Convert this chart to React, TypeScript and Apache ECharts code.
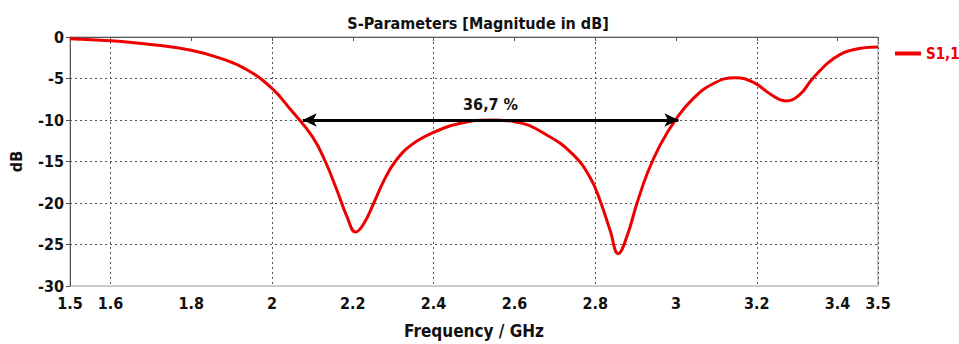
import React, { useEffect, useRef } from "react";
import * as echarts from "echarts";

const titleText = "S-Parameters [Magnitude in dB]";
const seriesName = "S1,1";
const freqGHz = [1.5, 1.6, 1.7, 1.8, 1.875, 1.94, 2.0, 2.047, 2.1, 2.132, 2.161, 2.186, 2.207, 2.227, 2.252, 2.277, 2.305, 2.345, 2.4, 2.467, 2.54, 2.6, 2.68, 2.746, 2.787, 2.812, 2.837, 2.857, 2.878, 2.903, 2.93, 2.961, 3.0, 3.043, 3.093, 3.147, 3.193, 3.234, 3.271, 3.305, 3.34, 3.39, 3.441, 3.5];
const s11dB = [-0.2, -0.45, -0.9, -1.6, -2.6, -4.0, -6.2, -8.8, -12.0, -15, -18.5, -21.7, -23.5, -22.5, -20, -17.3, -15, -13, -11.5, -10.4, -10.0, -10.2, -11.8, -14.2, -16.9, -19.7, -23.3, -26.1, -24.1, -20.1, -16.3, -13, -9.9, -7.4, -5.6, -4.9, -5.5, -6.9, -7.7, -7.0, -4.9, -2.6, -1.5, -1.2];
const xTickLabels = [1.5, 1.6, 1.8, 2, 2.2, 2.4, 2.6, 2.8, 3, 3.2, 3.4, 3.5];
const bandEdges = [2.076, 3.006];
const bandLevel = -10;
const bandLabel = "36,7 %";

const FONT = "DejaVu Sans Condensed";
const RED = "#ee0000";
const INK = "#111";

export default function App() {
  const ref = useRef<HTMLDivElement>(null);
  useEffect(() => {
    if (!ref.current) return;
    const chart = echarts.init(ref.current, null, { renderer: "svg" });
    const gridColor = "#555";
    chart.setOption({
      animation: false,
      backgroundColor: "#fff",
      textStyle: { fontFamily: FONT },
      title: {
        text: titleText,
        left: 473,
        top: 10,
        textAlign: "center",
        textStyle: { fontFamily: FONT, fontWeight: "bold", fontSize: 16, color: INK },
      },
      legend: {
        data: [seriesName],
        left: 890,
        top: 41,
        icon: "rect",
        itemWidth: 26,
        itemHeight: 4,
        itemStyle: { color: RED },
        textStyle: { fontFamily: FONT, fontWeight: "bold", fontSize: 15, color: RED },
      },
      grid: {
        left: 69,
        right: 81,
        top: 37,
        bottom: 54,
        show: true,
        borderColor: "#999",
        borderWidth: 1,
      },
      xAxis: {
        type: "value",
        min: 1.5,
        max: 3.5,
        interval: 0.1,
        name: "Frequency / GHz",
        nameLocation: "middle",
        nameGap: 36,
        nameTextStyle: { fontFamily: FONT, fontWeight: "bold", fontSize: 17, color: INK },
        axisLine: { show: true, lineStyle: { color: "#555", width: 1 } },
        axisTick: { show: true, length: 4, customValues: xTickLabels, lineStyle: { color: "#555" } },
        axisLabel: {
          customValues: xTickLabels,
          margin: 9,
          fontFamily: FONT,
          fontWeight: "bold",
          fontSize: 16,
          color: INK,
        },
        splitLine: {
          show: true,
          lineStyle: { color: ["rgba(0,0,0,0)", gridColor], type: [2, 3], width: 1 },
        },
      },
      yAxis: {
        type: "value",
        min: -30,
        max: 0,
        interval: 5,
        name: "dB",
        nameLocation: "middle",
        nameGap: 46,
        nameTextStyle: { fontFamily: FONT, fontWeight: "bold", fontSize: 16, color: INK },
        axisLine: { show: true, lineStyle: { color: "#555", width: 1 } },
        axisTick: { show: true, length: 4, lineStyle: { color: "#555" } },
        axisLabel: { margin: 6, fontFamily: FONT, fontWeight: "bold", fontSize: 16, color: INK },
        splitLine: {
          show: true,
          showMinLine: false,
          showMaxLine: false,
          lineStyle: { color: gridColor, type: [2, 3], width: 1 },
        },
      },
      series: [
        {
          name: seriesName,
          type: "line",
          data: freqGHz.map((f, i) => [f, s11dB[i]]),
          smooth: 0.45,
          symbol: "none",
          lineStyle: { color: RED, width: 3 },
          itemStyle: { color: RED },
          z: 3,
          markLine: {
            silent: true,
            symbol: ["arrow", "arrow"],
            symbolSize: [10, 14],
            lineStyle: { color: "#000", width: 3, type: "solid" },
            label: {
              show: true,
              position: "middle",
              distance: 8,
              formatter: bandLabel,
              fontFamily: FONT,
              fontWeight: "bold",
              fontSize: 16,
              color: INK,
            },
            data: [
              [
                { coord: [bandEdges[0], bandLevel] },
                { coord: [bandEdges[1], bandLevel] },
              ],
            ],
          },
        },
      ],
    });
    return () => chart.dispose();
  }, []);
  return <div ref={ref} style={{ width: 959, height: 344, position: "absolute", left: 0, top: 0 }} />;
}
